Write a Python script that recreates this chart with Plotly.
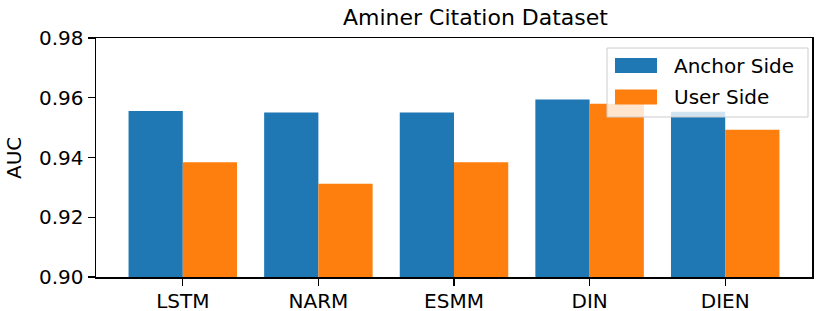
import plotly.graph_objects as go

models = ["LSTM", "NARM", "ESMM", "DIN", "DIEN"]
anchor_side = [0.9556, 0.9551, 0.9551, 0.9594, 0.9553]
user_side = [0.9384, 0.9312, 0.9384, 0.9580, 0.9493]
y_ticks = [0.90, 0.92, 0.94, 0.96, 0.98]

BLUE = "#1f77b4"
ORANGE = "#ff7f0e"
FONT = "DejaVu Sans"

W, H = 830, 311
L, R, T, B = 96, 18, 38, 34

fig = go.Figure()
fig.add_trace(go.Bar(x=models, y=anchor_side, name="Anchor Side", marker=dict(color=BLUE, line=dict(width=0)), showlegend=False))
fig.add_trace(go.Bar(x=models, y=user_side, name="User Side", marker=dict(color=ORANGE, line=dict(width=0)), showlegend=False))

fig.update_layout(
    width=W, height=H,
    margin=dict(l=L, r=R, t=T, b=B, autoexpand=False),
    paper_bgcolor="white", plot_bgcolor="white",
    barmode="group", bargap=0.2, bargroupgap=0,
    font=dict(family=FONT, size=20, color="black"),
    xaxis=dict(range=[-0.64, 4.64], showline=True, linecolor="black", linewidth=1.5, mirror=True,
               ticks="outside", ticklen=7, tickwidth=1.2, tickcolor="black", showgrid=False,
               tickfont=dict(size=20), automargin=False, ticklabelstandoff=-2),
    yaxis=dict(range=[0.90, 0.98], tickvals=y_ticks, ticktext=[f"{v:.2f}" for v in y_ticks],
               showline=True, linecolor="black", linewidth=1.5, mirror=True,
               ticks="outside", ticklen=7, tickwidth=1.2, tickcolor="black", showgrid=False, zeroline=False,
               tickfont=dict(size=20), automargin=False),
)

pw, ph = W - L - R, H - T - B
def px(x):
    return (x - L) / pw
def py(y):
    return 1 - (y - T) / ph

# title
fig.add_annotation(text="Aminer Citation Dataset", xref="paper", yref="paper", x=px(475), y=py(17),
                   xanchor="center", yanchor="middle", showarrow=False,
                   font=dict(family=FONT, size=22, color="black"))
# y-axis title
fig.add_annotation(text="AUC", xref="paper", yref="paper", x=px(14), y=py(158), textangle=-90,
                   xanchor="center", yanchor="middle", showarrow=False,
                   font=dict(family=FONT, size=20, color="black"))

# custom legend box (matplotlib style)
fig.add_shape(type="rect", xref="paper", yref="paper", x0=px(607), x1=px(808), y0=py(117), y1=py(48),
              fillcolor="rgba(255,255,255,0.8)", line=dict(color="#cccccc", width=1), layer="above")
for i, (label, col) in enumerate([("Anchor Side", BLUE), ("User Side", ORANGE)]):
    cy = 65.5 + i * 31.5
    fig.add_shape(type="rect", xref="paper", yref="paper", x0=px(615), x1=px(657), y0=py(cy + 7.5), y1=py(cy - 7.5),
                  fillcolor=col, line=dict(width=0), layer="above")
    fig.add_annotation(text=label, xref="paper", yref="paper", x=px(672), y=py(cy), xanchor="left",
                       yanchor="middle", showarrow=False, font=dict(family=FONT, size=20, color="black"))

fig.write_html("out.html", config={"displayModeBar": False, "staticPlot": True},
               post_script="document.body.style.margin='0';document.body.style.overflow='hidden';")
